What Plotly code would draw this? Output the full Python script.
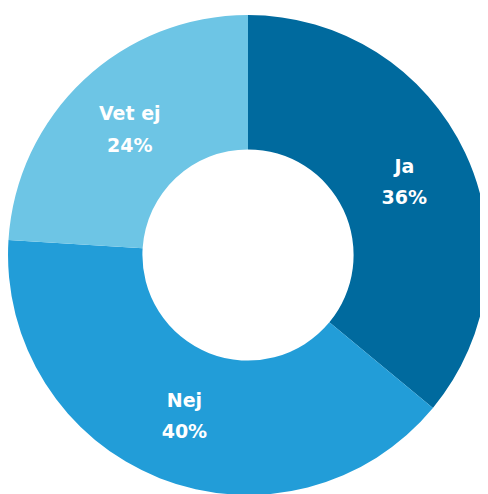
import plotly.graph_objects as go

labels = ["Ja", "Nej", "Vet ej"]
values = [36, 40, 24]
colors = ["#006A9E", "#229DD8", "#6DC5E5"]

fig = go.Figure(go.Pie(
    labels=labels,
    values=values,
    hole=0.44,
    sort=False,
    direction="clockwise",
    rotation=0,
    marker=dict(colors=colors, line=dict(width=0)),
    texttemplate=("<span style='font-size:19px'><b>%{label}</b></span><br>"
                  "<span style='font-size:19px'><b>%{value}%</b></span>"),
    textposition="inside",
    insidetextorientation="horizontal",
    textfont=dict(family="DejaVu Sans, sans-serif", size=24, color="white"),
    hoverinfo="label+percent",
    domain=dict(x=[0.0, 0.9836], y=[0.0142, 0.9858]),
))

fig.update_layout(
    width=488,
    height=494,
    margin=dict(l=0, r=0, t=0, b=0),
    showlegend=False,
    paper_bgcolor="white",
    plot_bgcolor="white",
)

fig.write_html("out.html")
